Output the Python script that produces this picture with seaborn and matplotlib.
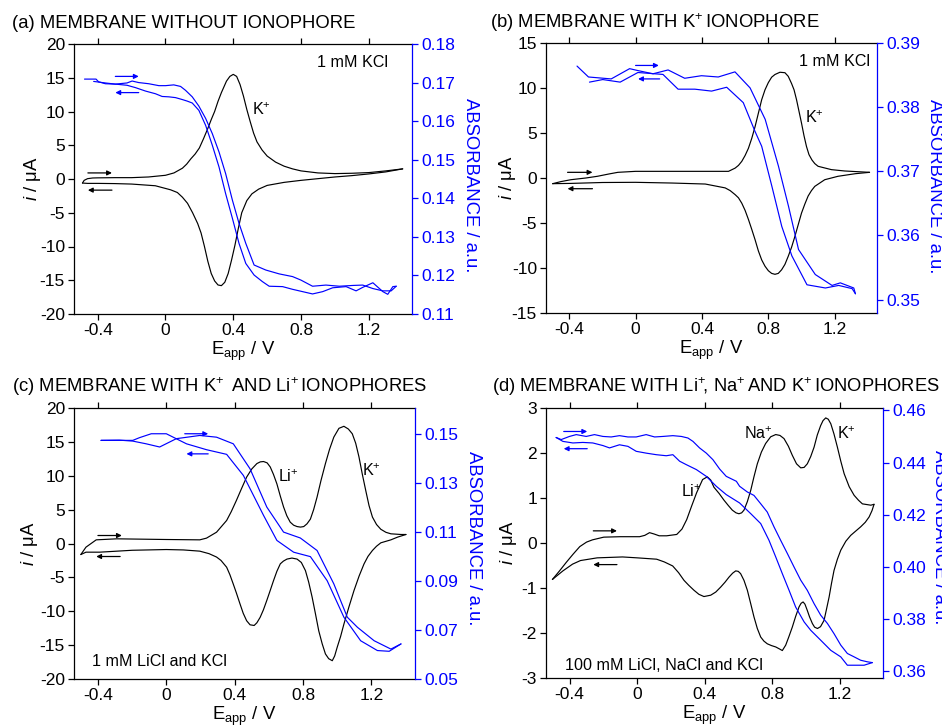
import matplotlib
matplotlib.use("Agg")
import matplotlib.pyplot as plt
import numpy as np
import pandas as pd
import seaborn as sns

# ---------------- data ----------------
# Panel (a): membrane without ionophore, 1 mM KCl
A_CV_FWD = [(-0.49,-0.6),(-0.48,-0.2),(-0.46,0.05),(-0.43,0.15),(-0.4,0.17),(-0.3,0.2),(-0.2,0.2),(-0.1,0.3),
            (0.0,0.55),(0.05,0.9),(0.1,1.6),(0.125,2.2),(0.15,3.0),(0.175,3.7),(0.2,4.6),(0.225,6.0),(0.25,7.5),
            (0.27,8.8),(0.29,10.0),(0.31,11.5),(0.33,12.8),(0.36,14.5),(0.38,15.2),(0.40,15.5),(0.42,15.2),
            (0.44,14.0),(0.46,12.3),(0.48,10.3),(0.50,8.5),(0.52,6.8),(0.54,5.5),(0.57,4.3),(0.6,3.4),
            (0.65,2.5),(0.7,1.9),(0.75,1.5),(0.8,1.2),(0.9,0.9),(1.0,0.8),(1.1,0.85),(1.2,0.95),(1.3,1.2),
            (1.4,1.5)]
A_CV_REV = [(1.4,1.5),(1.3,1.05),(1.2,0.75),(1.1,0.5),(1.0,0.3),(0.9,0.05),(0.8,-0.2),(0.7,-0.5),(0.6,-0.95),
            (0.55,-1.5),(0.51,-2.2),(0.48,-3.2),(0.45,-5.0),(0.43,-7.3),(0.41,-9.8),(0.39,-12.0),(0.37,-14.0),
            (0.35,-15.3),(0.33,-15.8),(0.31,-15.7),(0.29,-15.1),(0.27,-14.0),(0.25,-12.2),(0.23,-10.0),
            (0.21,-8.0),(0.19,-6.6),(0.16,-5.0),(0.13,-3.6),(0.1,-2.7),(0.07,-2.0),(0.03,-1.6),(0.0,-1.4),
            (-0.06,-1.0),(-0.2,-0.75),(-0.3,-0.68),(-0.4,-0.65),(-0.46,-0.65),(-0.49,-0.6)]
A_ABS_FWD = [(-0.478,0.1709),(-0.410,0.1709),(-0.395,0.1702),(-0.355,0.1697),(-0.296,0.1696),(-0.227,0.1699),
             (-0.197,0.1704),(-0.158,0.1700),(-0.099,0.1697),(-0.039,0.1692),(0.0,0.1692),(0.049,0.1694),
             (0.089,0.1690),(0.118,0.1680),(0.158,0.1663),(0.197,0.1639),(0.237,0.1607),(0.276,0.1568),
             (0.316,0.1520),(0.355,0.1464),(0.395,0.1395),(0.434,0.1335),(0.474,0.1283),(0.523,0.1227),
             (0.592,0.1214),(0.671,0.1204),(0.750,0.1197),(0.799,0.1188),(0.868,0.1172),(0.947,0.1175),
             (1.026,0.1172),(1.105,0.1174),(1.164,0.1175),(1.224,0.1166),(1.283,0.1160),(1.332,0.1160),
             (1.362,0.1172)]
A_ABS_REV = [(1.362,0.1172),(1.342,0.1171),(1.312,0.1151),(1.283,0.1158),(1.224,0.1181),(1.164,0.1169),
             (1.125,0.1160),(1.066,0.1171),(0.987,0.1168),(0.928,0.1158),(0.868,0.1152),(0.809,0.1158),
             (0.750,0.1164),(0.691,0.1171),(0.612,0.1172),(0.572,0.1184),(0.523,0.1201),(0.474,0.1231),
             (0.434,0.1283),(0.395,0.1348),(0.355,0.1412),(0.316,0.1481),(0.276,0.1538),(0.237,0.1589),
             (0.197,0.1628),(0.158,0.1647),(0.128,0.1652),(0.099,0.1656),(0.059,0.1661),(0.020,0.1663),
             (-0.020,0.1664),(-0.059,0.1671),(-0.118,0.1678),(-0.178,0.1687),(-0.227,0.1693),(-0.296,0.1696),
             (-0.355,0.1699),(-0.424,0.1703)]

# Panel (b): membrane with K+ ionophore, 1 mM KCl
B_CV_FWD = [(-0.50,-0.63),(-0.45,-0.4),(-0.39,-0.19),(-0.3,0.0),(-0.23,0.19),(-0.16,0.45),(-0.107,0.63),
            (0.0,0.74),(0.2,0.74),(0.4,0.74),(0.56,0.74),(0.6,1.1),(0.62,1.4),(0.64,1.85),(0.66,2.5),
            (0.68,3.3),(0.70,4.4),(0.72,5.7),(0.74,7.2),(0.76,8.7),(0.78,9.8),(0.80,10.6),(0.82,11.2),
            (0.84,11.5),(0.87,11.75),(0.90,11.7),(0.92,11.3),(0.94,10.5),(0.955,9.8),(0.97,8.7),(0.985,7.4),
            (1.0,6.1),(1.015,4.7),(1.03,3.5),(1.045,2.6),(1.063,2.0),(1.08,1.6),(1.10,1.3),(1.18,0.93),
            (1.26,0.78),(1.41,0.63)]
B_CV_REV = [(1.41,0.63),(1.325,0.48),(1.22,0.19),(1.14,-0.19),(1.08,-0.93),(1.06,-1.4),(1.04,-2.0),
            (1.02,-2.9),(1.0,-3.9),(0.98,-5.2),(0.96,-6.5),(0.94,-7.7),(0.92,-8.7),(0.90,-9.6),(0.88,-10.2),
            (0.86,-10.6),(0.84,-10.7),(0.82,-10.6),(0.80,-10.3),(0.78,-9.8),(0.76,-9.1),(0.74,-8.1),
            (0.72,-6.85),(0.70,-5.7),(0.68,-4.6),(0.66,-3.6),(0.64,-2.8),(0.62,-2.2),(0.6,-1.85),
            (0.57,-1.4),(0.54,-1.1),(0.42,-0.67),(0.22,-0.56),(0.0,-0.48),(-0.2,-0.5),(-0.39,-0.6),
            (-0.50,-0.63)]
B_ABS_FWD = [(-0.353,0.3864),(-0.284,0.3847),(-0.147,0.3844),(-0.036,0.3860),(0.014,0.3857),(0.105,0.3852),
             (0.196,0.3858),(0.296,0.3845),(0.397,0.3849),(0.498,0.3847),(0.599,0.3855),(0.690,0.3830),
             (0.781,0.3781),(0.861,0.3708),(0.922,0.3645),(0.982,0.3578),(1.083,0.3539),(1.184,0.3522),
             (1.234,0.3526),(1.315,0.3518),(1.325,0.3509)]
B_ABS_REV = [(1.325,0.3509),(1.305,0.3517),(1.224,0.3522),(1.144,0.3518),(1.033,0.3523),(0.942,0.3568),
             (0.881,0.3614),(0.821,0.3677),(0.760,0.3739),(0.720,0.3762),(0.649,0.3807),(0.549,0.3831),
             (0.458,0.3825),(0.357,0.3828),(0.256,0.3828),(0.165,0.3851),(0.014,0.3854),(-0.093,0.3839),
             (-0.198,0.3843),(-0.278,0.3839)]

# Panel (c): membrane with K+ and Li+ ionophores, 1 mM LiCl and KCl
C_CV_FWD = [(-0.5,-1.63),(-0.47,-0.54),(-0.41,0.54),(-0.29,0.69),(0.0,0.59),(0.196,0.54),(0.235,0.79),
            (0.294,1.67),(0.353,3.4),(0.38,4.7),(0.41,6.35),(0.44,8.1),(0.47,9.8),(0.50,11.0),(0.53,11.8),
            (0.55,12.05),(0.569,12.1),(0.59,11.9),(0.608,11.3),(0.627,10.2),(0.647,8.8),(0.667,7.0),
            (0.686,5.4),(0.705,4.1),(0.725,3.15),(0.745,2.7),(0.765,2.5),(0.785,2.42),(0.804,2.5),
            (0.823,2.9),(0.843,3.6),(0.862,5.0),(0.882,6.85),(0.905,9.3),(0.931,11.8),(0.955,13.9),
            (0.98,15.7),(1.01,17.0),(1.039,17.3),(1.065,16.9),(1.088,16.2),(1.108,14.8),(1.127,12.8),
            (1.147,10.2),(1.167,7.8),(1.186,5.6),(1.206,3.9),(1.23,2.8),(1.255,2.1),(1.285,1.65),
            (1.314,1.43),(1.373,1.33),(1.402,1.33)]
C_CV_REV = [(1.402,1.33),(1.353,0.94),(1.314,0.54),(1.255,0.1),(1.23,-0.4),(1.206,-1.03),(1.18,-1.9),
            (1.157,-3.0),(1.128,-4.8),(1.098,-6.95),(1.068,-9.4),(1.039,-11.9),(1.02,-13.7),(1.0,-15.3),
            (0.985,-16.6),(0.971,-17.3),(0.95,-17.0),(0.931,-16.3),(0.912,-14.8),(0.892,-12.9),
            (0.872,-10.3),(0.853,-7.9),(0.833,-5.7),(0.814,-4.0),(0.79,-2.8),(0.765,-2.3),(0.735,-2.15),
            (0.706,-2.3),(0.685,-2.6),(0.667,-3.0),(0.647,-4.1),(0.627,-5.5),(0.607,-7.0),(0.588,-8.4),
            (0.568,-9.8),(0.549,-10.9),(0.53,-11.7),(0.514,-12.1),(0.49,-12.0),(0.47,-11.4),(0.45,-10.3),
            (0.431,-8.9),(0.41,-7.3),(0.392,-6.0),(0.372,-4.6),(0.353,-3.5),(0.32,-2.5),(0.294,-2.0),
            (0.25,-1.5),(0.196,-1.13),(0.1,-0.95),(0.0,-0.89),(-0.2,-1.0),(-0.39,-1.28),(-0.47,-1.28),
            (-0.5,-1.63)]
C_ABS_FWD = [(-0.382,0.1473),(-0.275,0.1474),(-0.196,0.1470),(-0.118,0.1459),(-0.039,0.1446),(0.059,0.1480),
             (0.196,0.1493),(0.294,0.1486),(0.392,0.1459),(0.49,0.1357),(0.588,0.1201),(0.686,0.1099),
             (0.784,0.1075),(0.882,0.1024),(0.98,0.0888),(1.059,0.0752),(1.118,0.0711),(1.216,0.0656),
             (1.314,0.0622),(1.373,0.0643)]
C_ABS_REV = [(1.373,0.0643),(1.304,0.0613),(1.235,0.0616),(1.137,0.0656),(1.039,0.0752),(0.941,0.0901),
             (0.843,0.0999),(0.745,0.1017),(0.647,0.1065),(0.569,0.1167),(0.451,0.1330),(0.353,0.1416),
             (0.235,0.1435),(0.118,0.1459),(0.0,0.1500),(-0.088,0.1500),(-0.157,0.1484),(-0.196,0.1473),
             (-0.284,0.1473),(-0.382,0.1473)]

# Panel (d): membrane with Li+, Na+ and K+ ionophores, 100 mM salts
D_CV_FWD = [(-0.502,-0.81),(-0.46,-0.62),(-0.42,-0.43),(-0.38,-0.25),(-0.34,-0.08),(-0.30,0.02),(-0.265,0.07),
            (-0.198,0.13),(-0.099,0.14),(0.014,0.14),(0.045,0.17),(0.073,0.23),(0.10,0.2),(0.13,0.16),
            (0.174,0.16),(0.234,0.19),(0.265,0.31),(0.293,0.52),(0.322,0.82),(0.352,1.12),(0.387,1.41),
            (0.415,1.47),(0.435,1.4),(0.454,1.24),(0.485,1.1),(0.514,0.95),(0.54,0.83),(0.563,0.73),
            (0.585,0.67),(0.602,0.65),(0.618,0.67),(0.632,0.73),(0.652,0.92),(0.672,1.17),(0.691,1.47),
            (0.711,1.76),(0.735,2.02),(0.76,2.21),(0.79,2.36),(0.82,2.41),(0.845,2.39),(0.869,2.32),
            (0.895,2.15),(0.918,1.95),(0.943,1.76),(0.968,1.67),(0.988,1.68),(1.007,1.76),(1.027,1.92),
            (1.047,2.13),(1.066,2.4),(1.086,2.61),(1.1,2.72),(1.116,2.78),(1.131,2.75),(1.146,2.65),
            (1.165,2.42),(1.185,2.13),(1.205,1.82),(1.225,1.54),(1.255,1.25),(1.284,1.06),(1.31,0.95),
            (1.333,0.87),(1.383,0.84),(1.402,0.86)]
D_CV_REV = [(1.402,0.86),(1.39,0.72),(1.373,0.58),(1.35,0.46),(1.323,0.36),(1.295,0.27),(1.264,0.17),
            (1.235,0.04),(1.205,-0.16),(1.185,-0.36),(1.165,-0.61),(1.15,-0.9),(1.136,-1.2),(1.12,-1.48),
            (1.106,-1.72),(1.085,-1.86),(1.067,-1.9),(1.05,-1.87),(1.037,-1.79),(1.02,-1.64),(1.007,-1.5),
            (0.993,-1.36),(0.982,-1.31),(0.97,-1.34),(0.958,-1.42),(0.938,-1.63),(0.918,-1.87),
            (0.898,-2.08),(0.879,-2.27),(0.859,-2.39),(0.84,-2.35),(0.82,-2.31),(0.795,-2.28),(0.77,-2.24),
            (0.75,-2.18),(0.731,-2.09),(0.711,-1.9),(0.691,-1.64),(0.672,-1.35),(0.652,-1.05),(0.632,-0.83),
            (0.612,-0.68),(0.598,-0.63),(0.583,-0.62),(0.565,-0.67),(0.543,-0.76),(0.52,-0.87),(0.494,-0.98),
            (0.465,-1.09),(0.435,-1.16),(0.395,-1.19),(0.365,-1.14),(0.336,-1.05),(0.305,-0.94),
            (0.277,-0.83),(0.245,-0.66),(0.21,-0.51),(0.16,-0.42),(0.115,-0.36),(0.0,-0.33),(-0.087,-0.31),
            (-0.237,-0.33),(-0.336,-0.39),(-0.383,-0.47),(-0.440,-0.62),(-0.502,-0.81)]
D_ABS_FWD = [(-0.480,0.4496),(-0.450,0.4488),(-0.401,0.4500),(-0.361,0.4507),(-0.302,0.4500),(-0.253,0.4507),
             (-0.203,0.4500),(-0.154,0.4498),(-0.105,0.4503),(-0.055,0.4498),(-0.006,0.4498),(0.053,0.4507),
             (0.103,0.4498),(0.152,0.4500),(0.211,0.4503),(0.261,0.4500),(0.300,0.4494),(0.330,0.4481),
             (0.369,0.4456),(0.409,0.4436),(0.448,0.4411),(0.488,0.4375),(0.527,0.4347),(0.587,0.4328),
             (0.606,0.4309),(0.652,0.4287),(0.691,0.4274),(0.731,0.4242),(0.770,0.4210),(0.810,0.4153),
             (0.849,0.4102),(0.889,0.4051),(0.928,0.4000),(0.968,0.3949),(1.007,0.3910),(1.047,0.3859),
             (1.086,0.3815),(1.126,0.3783),(1.165,0.3744),(1.205,0.3700),(1.244,0.3668),(1.284,0.3655),
             (1.323,0.3642),(1.363,0.3636),(1.392,0.3633)]
D_ABS_REV = [(1.392,0.3633),(1.343,0.3623),(1.304,0.3623),(1.244,0.3623),(1.205,0.3655),(1.146,0.3680),
             (1.086,0.3719),(1.027,0.3757),(0.988,0.3789),(0.938,0.3846),(0.899,0.3910),(0.859,0.3974),
             (0.820,0.4038),(0.780,0.4102),(0.731,0.4166),(0.672,0.4204),(0.606,0.4245),(0.527,0.4277),
             (0.468,0.4309),(0.409,0.4347),(0.350,0.4373),(0.290,0.4392),(0.251,0.4405),(0.211,0.4430),
             (0.172,0.4426),(0.113,0.4430),(0.053,0.4436),(-0.006,0.4443),(-0.055,0.4462),(-0.105,0.4468),
             (-0.164,0.4456),(-0.203,0.4465),(-0.263,0.4475),(-0.322,0.4477),(-0.381,0.4475),(-0.440,0.4481),
             (-0.480,0.4496)]

X_TICKS = [-0.4, 0.0, 0.4, 0.8, 1.2]
X_TICKLABELS = ["-0.4", "0", "0.4", "0.8", "1.2"]

SUP = r"$^{+}\!$"
TITLES = ["(a) MEMBRANE WITHOUT IONOPHORE",
          "(b) MEMBRANE WITH K" + SUP + " IONOPHORE",
          "(c) MEMBRANE WITH K" + SUP + "  AND Li" + SUP + " IONOPHORES",
          "(d) MEMBRANE WITH Li" + SUP + ", Na" + SUP + " AND K" + SUP + " IONOPHORES"]

# ---------------- style ----------------
sns.set_theme(style="ticks")
plt.rcParams.update({
    "font.family": ["Liberation Sans", "DejaVu Sans"],
    "mathtext.fontset": "custom",
    "mathtext.rm": "Liberation Sans",
    "mathtext.it": "Liberation Sans:italic",
    "mathtext.bf": "Liberation Sans:bold",
    "axes.unicode_minus": False,
    "axes.linewidth": 0.9,
    "xtick.major.width": 0.9, "ytick.major.width": 0.9,
    "xtick.major.size": 4, "ytick.major.size": 4,
    "xtick.direction": "out", "ytick.direction": "out",
    "xtick.labelsize": 12.5, "ytick.labelsize": 12.5,
    "axes.labelsize": 13.3,
    "text.color": "black", "axes.labelcolor": "black",
    "xtick.color": "black", "ytick.color": "black",
    "axes.edgecolor": "black",
})
BLUE = "#0000ff"

fig = plt.figure(figsize=(9.42, 7.28), dpi=100)
W, H = 942.0, 728.0


def to_df(pairs, col):
    arr = np.array(pairs, dtype=float)
    return pd.DataFrame({"V": arr[:, 0], col: arr[:, 1]})


def panel(px, cv_f, cv_r, ab_f, ab_r, ilim, iticks, alim, aticks, afmt,
          ylab_x, rlab_x, rlab_y):
    left, top, right, bottom = px
    ax = fig.add_axes([left / W, 1 - bottom / H, (right - left) / W, (bottom - top) / H])
    ax2 = ax.twinx()
    for pairs in (cv_f, cv_r):
        sns.lineplot(data=to_df(pairs, "i"), x="V", y="i", sort=False, estimator=None,
                     color="black", lw=0.85, ax=ax, legend=False)
    for pairs in (ab_f, ab_r):
        sns.lineplot(data=to_df(pairs, "A"), x="V", y="A", sort=False, estimator=None,
                     color=BLUE, lw=0.85, ax=ax2, legend=False)
    ax.set_xlim(-0.54, 1.455)
    ax.set_ylim(*ilim)
    ax.set_xticks(X_TICKS)
    ax.set_xticklabels(X_TICKLABELS)
    ax.set_yticks(iticks)
    ax.set_yticklabels([f"{t:g}" for t in iticks])
    ax.tick_params(top=True, labeltop=False, right=False, pad=2.5)
    ax.spines["right"].set_visible(False)
    ax.set_xlabel(r"E$_{\mathrm{app}}$ / V", labelpad=1)
    ax.set_ylabel(r"$i$ / μA")
    ax.yaxis.set_label_coords(ylab_x, 0.5)
    ax2.set_ylim(*alim)
    ax2.set_yticks(aticks)
    ax2.set_yticklabels([afmt.format(t) for t in aticks])
    ax2.tick_params(axis="y", colors=BLUE, labelcolor=BLUE, pad=2.5)
    for s in ("left", "top", "bottom"):
        ax2.spines[s].set_visible(False)
    ax2.spines["right"].set_color(BLUE)
    ax2.set_ylabel("ABSORBANCE / a.u.", color=BLUE, rotation=-90, va="bottom")
    ax2.yaxis.set_label_coords(1.0 + rlab_x, rlab_y)
    ax2.set_xlabel("")
    return ax, ax2


def arrow(ax, x0, x1, y, color):
    ax.annotate("", xy=(x1, y), xytext=(x0, y),
                arrowprops=dict(arrowstyle="-|>", color=color, lw=0.9,
                                mutation_scale=7, shrinkA=0, shrinkB=0))


# (a)
ax, ax2 = panel((74, 44, 412, 314), A_CV_FWD, A_CV_REV, A_ABS_FWD, A_ABS_REV,
                (-20, 20), [-20, -15, -10, -5, 0, 5, 10, 15, 20],
                (0.11, 0.18), [0.11, 0.12, 0.13, 0.14, 0.15, 0.16, 0.17, 0.18], "{:.2f}",
                -0.092, 0.148, 0.478)
arrow(ax, -0.458, -0.316, 0.9, "black")
arrow(ax, -0.316, -0.458, -1.65, "black")
arrow(ax2, -0.296, -0.158, 0.1716, BLUE)
arrow(ax2, -0.158, -0.296, 0.1674, BLUE)
ax.text(1.312, 17.3, "1 mM KCl", ha="right", va="center", fontsize=11.6)
ax.text(0.513, 10.2, "K" + SUP, ha="left", va="center", fontsize=11.6)

# (b)
ax, ax2 = panel((546, 43, 877, 313), B_CV_FWD, B_CV_REV, B_ABS_FWD, B_ABS_REV,
                (-15, 15), [-15, -10, -5, 0, 5, 10, 15],
                (0.3479, 0.39), [0.35, 0.36, 0.37, 0.38, 0.39], "{:.2f}",
                -0.085, 0.148, 0.47)
arrow(ax, -0.41, -0.26, 0.63, "black")
arrow(ax, -0.26, -0.41, -1.19, "black")
arrow(ax2, 0.0, 0.14, 0.3865, BLUE)
arrow(ax2, 0.145, 0.015, 0.3844, BLUE)
ax.text(1.412, 12.96, "1 mM KCl", ha="right", va="center", fontsize=11.6)
ax.text(1.023, 6.67, "K" + SUP, ha="left", va="center", fontsize=11.6)

# (c)
ax, ax2 = panel((74, 408, 415, 679), C_CV_FWD, C_CV_REV, C_ABS_FWD, C_ABS_REV,
                (-20, 20), [-20, -15, -10, -5, 0, 5, 10, 15, 20],
                (0.05, 0.1605), [0.05, 0.07, 0.09, 0.11, 0.13, 0.15], "{:.2f}",
                -0.10, 0.147, 0.52)
arrow(ax, -0.40, -0.26, 1.18, "black")
arrow(ax, -0.27, -0.41, -1.92, "black")
arrow(ax2, 0.108, 0.245, 0.150, BLUE)
arrow(ax2, 0.245, 0.118, 0.1418, BLUE)
ax.text(-0.435, -17.4, "1 mM LiCl and KCl", ha="left", va="center", fontsize=11.6)
ax.text(0.653, 9.8, "Li" + SUP, ha="left", va="center", fontsize=11.6)
ax.text(1.143, 10.8, "K" + SUP, ha="left", va="center", fontsize=11.6)

# (d)
ax, ax2 = panel((546, 408, 883, 678), D_CV_FWD, D_CV_REV, D_ABS_FWD, D_ABS_REV,
                (-3, 3), [-3, -2, -1, 0, 1, 2, 3],
                (0.3574, 0.4609), [0.36, 0.38, 0.40, 0.42, 0.44, 0.46], "{:.2f}",
                -0.08, 0.142, 0.52)
arrow(ax, -0.26, -0.12, 0.27, "black")
arrow(ax, -0.12, -0.26, -0.48, "black")
arrow(ax2, -0.435, -0.296, 0.4519, BLUE)
arrow(ax2, -0.296, -0.435, 0.4453, BLUE)
ax.text(-0.429, -2.72, "100 mM LiCl, NaCl and KCl", ha="left", va="center", fontsize=11.6)
ax.text(0.632, 2.43, "Na" + SUP, ha="left", va="center", fontsize=11.6)
ax.text(1.185, 2.43, "K" + SUP, ha="left", va="center", fontsize=11.6)
ax.text(0.257, 1.15, "Li" + SUP, ha="left", va="center", fontsize=11.6)

# titles
fig.text(12 / W, 1 - 28.5 / H, TITLES[0], fontsize=13.3, ha="left", va="baseline")
fig.text(490 / W, 1 - 28.5 / H, TITLES[1], fontsize=13.3, ha="left", va="baseline")
fig.text(12 / W, 1 - 392 / H, TITLES[2], fontsize=13.3, ha="left", va="baseline")
fig.text(492 / W, 1 - 392 / H, TITLES[3], fontsize=13.25, ha="left", va="baseline")

fig.savefig("out.png", dpi=100, facecolor="white")
